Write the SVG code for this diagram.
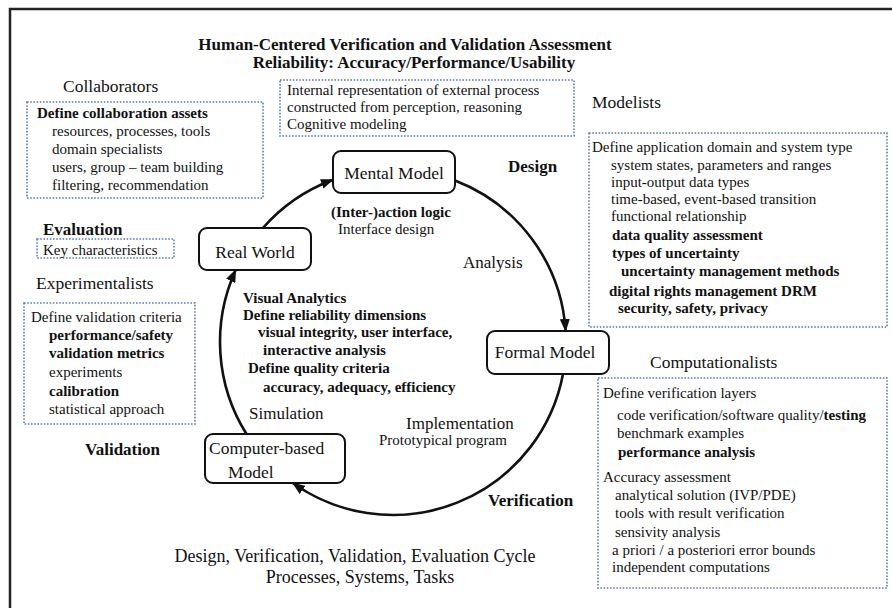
<svg xmlns="http://www.w3.org/2000/svg" width="892" height="608" viewBox="0 0 892 608" font-family="'Liberation Serif', 'Times New Roman', 'DejaVu Serif', serif">
<style>
text{font-family:'Liberation Serif','Times New Roman','DejaVu Serif',serif;fill:#111;}
.b{font-size:15px;}
.bb{font-size:15px;font-weight:bold;}
.h{font-size:17.5px;}
.hb{font-size:17px;font-weight:bold;}
.box{fill:none;stroke:#5b7cb4;stroke-width:1.6;stroke-dasharray:1.6 1.6;}
.node{fill:#fff;stroke:#111;stroke-width:2;}
.arc{fill:none;stroke:#111;stroke-width:2.6;marker-end:url(#ah);}
.m{text-anchor:middle;}
</style>
<defs>
<marker id="ah" markerUnits="userSpaceOnUse" markerWidth="13" markerHeight="10" refX="12" refY="5" orient="auto">
<path d="M0,0 L13,5 L0,10 z" fill="#111"/>
</marker>
</defs>
<rect width="892" height="608" fill="#fff"/>
<path d="M10,608 V9 H892" fill="none" stroke="#222" stroke-width="2.5"/>

<g id="title">
<text class="hb m" x="405" y="50">Human-Centered Verification and Validation Assessment</text>
<text class="hb m" x="414" y="68">Reliability: Accuracy/Performance/Usability</text>
</g>

<g id="collaborators">
<text class="h" x="63" y="92">Collaborators</text>
<rect class="box" x="27" y="102" width="236" height="96"/>
<text class="bb" x="37" y="118">Define collaboration assets</text>
<text class="b" x="52" y="136">resources, processes, tools</text>
<text class="b" x="52" y="154">domain  specialists</text>
<text class="b" x="52" y="172">users, group – team building</text>
<text class="b" x="52" y="190">filtering,  recommendation</text>
</g>

<g id="mental-note">
<rect class="box" x="280" y="80" width="294" height="56"/>
<text class="b" x="287" y="95">Internal representation of external process</text>
<text class="b" x="287" y="112">constructed from perception, reasoning</text>
<text class="b" x="287" y="129">Cognitive  modeling</text>
</g>

<g id="modelists">
<text class="h" x="592" y="108">Modelists</text>
<rect class="box" x="589" y="133" width="298" height="194"/>
<text class="b" x="592" y="152">Define application domain and system type</text>
<text class="b" x="611" y="170">system states, parameters and ranges</text>
<text class="b" x="611" y="187">input-output data types</text>
<text class="b" x="611" y="204">time-based, event-based transition</text>
<text class="b" x="611" y="221">functional relationship</text>
<text class="bb" x="612" y="240">data quality assessment</text>
<text class="bb" x="612" y="258">types of uncertainty</text>
<text class="bb" x="621" y="276">uncertainty management methods</text>
<text class="bb" x="609" y="296">digital rights management DRM</text>
<text class="bb" x="618" y="313">security, safety, privacy</text>
</g>

<g id="evaluation">
<text class="hb" x="43" y="235">Evaluation</text>
<rect class="box" x="37" y="239" width="137" height="19"/>
<text class="b" x="43" y="255">Key characteristics</text>
</g>

<g id="experimentalists">
<text class="h" x="36" y="289">Experimentalists</text>
<rect class="box" x="24" y="303" width="171" height="121"/>
<text class="b" x="31" y="322">Define validation  criteria</text>
<text class="bb" x="49" y="340">performance/safety</text>
<text class="bb" x="49" y="358">validation metrics</text>
<text class="b" x="49" y="377">experiments</text>
<text class="bb" x="49" y="396">calibration</text>
<text class="b" x="49" y="414">statistical approach</text>
<text class="hb" x="85" y="455">Validation</text>
</g>

<g id="computationalists">
<text class="h" x="650" y="368">Computationalists</text>
<rect class="box" x="598" y="378" width="289" height="210"/>
<text class="b" x="603" y="398">Define verification  layers</text>
<text class="b" x="617" y="420">code verification/software  quality/<tspan font-weight="bold">testing</tspan></text>
<text class="b" x="617" y="438">benchmark examples</text>
<text class="bb" x="618" y="457">performance analysis</text>
<text class="b" x="603" y="482">Accuracy assessment</text>
<text class="b" x="615" y="500">analytical solution (IVP/PDE)</text>
<text class="b" x="615" y="518">tools with result verification</text>
<text class="b" x="615" y="537">sensivity analysis</text>
<text class="b" x="612" y="555">a priori / a posteriori error bounds</text>
<text class="b" x="612" y="572">independent computations</text>
</g>

<g id="connectors">
<path class="arc" d="M262.9,228 A173,173 0 0 1 333,179.7"/>
<path class="arc" d="M455,180.5 A173,173 0 0 1 565.6,331"/>
<path class="arc" d="M563,374 A173,173 0 0 1 292.8,483"/>
<path class="arc" d="M246.5,434 A173,173 0 0 1 235.7,270"/>
</g>

<g id="mental-model">
<rect class="node" x="333" y="151" width="122" height="42" rx="8"/>
<text class="h m" x="394" y="179">Mental Model</text>
</g>
<g id="real-world">
<rect class="node" x="199" y="228" width="112" height="42" rx="8"/>
<text class="h m" x="255" y="258">Real World</text>
</g>
<g id="formal-model">
<rect class="node" x="487" y="331" width="122" height="43" rx="8"/>
<text class="h m" x="545" y="358">Formal Model</text>
</g>
<g id="computer-model">
<rect class="node" x="205" y="434" width="140" height="49" rx="8"/>
<text class="h" x="209" y="454">Computer-based</text>
<text class="h" x="228" y="478">Model</text>
</g>

<g id="cycle-labels">
<text class="bb" x="331" y="217">(Inter-)action logic</text>
<text class="b" x="338" y="234">Interface design</text>
<text class="hb" x="508" y="172">Design</text>
<text class="h" x="463" y="268" style="font-size:17px">Analysis</text>
<text class="bb" x="243" y="303">Visual Analytics</text>
<text class="bb" x="243" y="320">Define reliability dimensions</text>
<text class="bb" x="258" y="337">visual integrity, user interface,</text>
<text class="bb" x="263" y="355">interactive analysis</text>
<text class="bb" x="248" y="373">Define quality criteria</text>
<text class="bb" x="263" y="392">accuracy, adequacy, efficiency</text>
<text class="h" x="249" y="419" style="font-size:17px">Simulation</text>
<text class="h" x="406" y="429" style="font-size:17px">Implementation</text>
<text class="b" x="379" y="445">Prototypical program</text>
<text class="hb" x="488" y="506">Verification</text>
</g>

<g id="footer">
<text class="m" x="355" y="562" style="font-size:18px">Design, Verification, Validation, Evaluation Cycle</text>
<text class="m" x="360" y="583" style="font-size:18px">Processes, Systems,  Tasks</text>
</g>
</svg>
